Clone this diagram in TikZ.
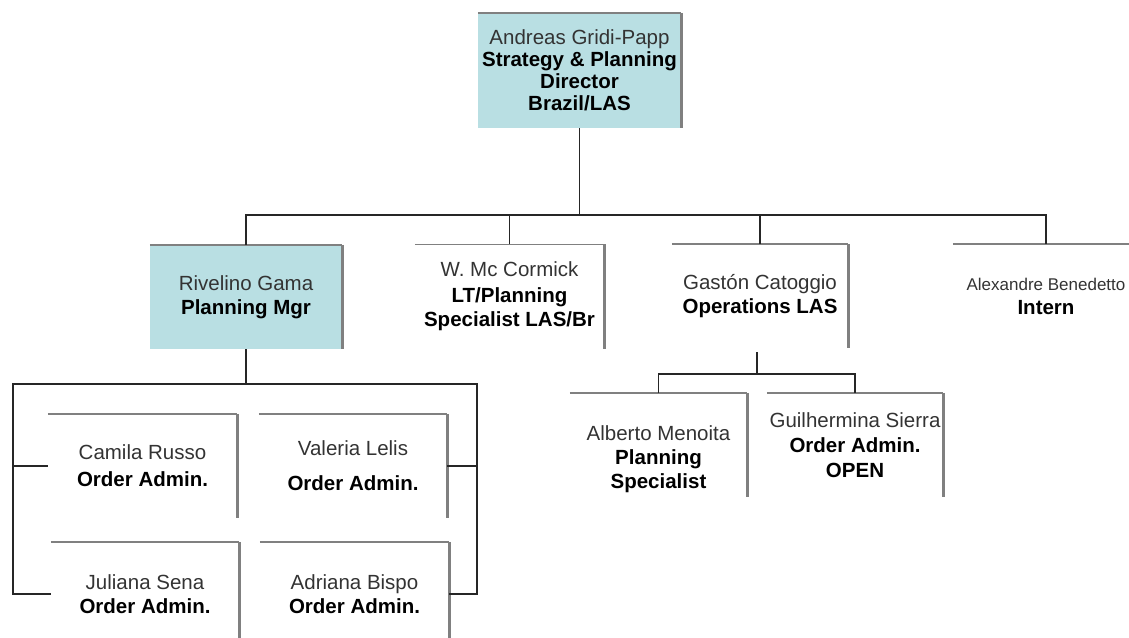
\documentclass[tikz,border=0pt]{standalone}
\usepackage{fontspec}
\setmainfont{Liberation Sans}
\usepackage{tikz}
\definecolor{boxblue}{RGB}{185,223,227}
\definecolor{rimgray}{RGB}{128,128,128}
\newcommand{\who}[1]{{\color{black!80}#1}}

\begin{document}
\begin{tikzpicture}[x=1pt,y=-1pt,font=\fontsize{20.5}{24}\selectfont]
    \tikzstyle{person}=[rectangle,inner sep=0pt,align=center,minimum width=189pt,minimum height=104pt]
    \tikzstyle{lead}=[person,fill=boxblue]
    \tikzstyle{topline}=[draw=rimgray,line width=1.5pt]
    \tikzstyle{sideline}=[draw=rimgray,line width=3pt]
    \tikzstyle{link}=[draw=black!85,line width=1.5pt]

    \useasboundingbox (0,0) rectangle (1129,637);
    \clip (0,0) rectangle (1129,637);

    % Director
    \node[lead,minimum width=203pt,minimum height=115pt,font=\fontsize{20.5}{22}\selectfont] (dir) at (579.5,70.5)
        {\who{Andreas Gridi-Papp}\\\textbf{Strategy \& Planning}\\\textbf{Director}\\\textbf{Brazil/LAS}};

    % Second level
    \node[lead,minimum width=192pt] (riv) at (246,297) {\who{Rivelino Gama}\\\textbf{Planning Mgr}};
    \node[person] (mcc) at (509.5,296.5) {\who{W. Mc Cormick}\\[2pt]\textbf{LT/Planning}\\\textbf{Specialist LAS/Br}};
    \node[person,minimum width=176pt] (gas) at (760,296) {\who{Gastón Catoggio}\\\textbf{Operations LAS}};
    \node[person,minimum width=186pt] (alex) at (1046,296) {{\fontsize{17}{20}\selectfont\who{Alexandre Benedetto}}\\\textbf{Intern}};

    % Operations team
    \node[person,minimum width=177pt] (alb) at (658.5,445) {\rule{0pt}{43pt}\who{Alberto Menoita}\\\textbf{Planning}\\\textbf{Specialist}};
    \node[person,minimum width=176pt] (gui) at (855,445) {\who{Guilhermina Sierra}\\[1pt]\textbf{Order Admin.}\\[1pt]\textbf{OPEN}};

    % Planning team
    \node[person] (cam) at (142.5,466) {\who{Camila Russo}\\[3pt]\textbf{Order Admin.}};
    \node[person,minimum width=188pt] (val) at (353,466) {\who{Valeria Lelis}\\[11pt]\textbf{Order Admin.}};
    \node[person,minimum width=188pt] (jul) at (145,594) {\who{Juliana Sena}\\\textbf{Order Admin.}};
    \node[person] (adr) at (354.5,594) {\who{Adriana Bispo}\\\textbf{Order Admin.}};

    % Box rims: thin top edge, thick right edge
    \foreach \n in {dir,riv,mcc,gas,alex,alb,gui,cam,val,jul,adr} {
        \draw[topline] (\n.north west) -- (\n.north east);
        \draw[sideline] (\n.north east) -- (\n.south east);
    }

    % Director to second level
    \coordinate (bus) at (579.5,215);
    \draw[link] (dir.south) -- (bus);
    \draw[link] (riv.north) |- (bus) -| (alex.north);
    \foreach \c in {mcc,gas}
        \draw[link] (\c.north) -- (\c.north |- bus);

    % Operations LAS to its team
    \draw[link] (gas.south) ++(-3,4) -- ++(0,22) coordinate (gbus);
    \draw[link] (alb.north) |- (gbus) -| (gui.north);

    % Planning Mgr to his team
    \draw[link] (riv.south) -- ++(0,35) coordinate (lbus);
    \coordinate (lw) at (13,384);
    \coordinate (le) at (477,384);
    \draw[link] (cam.west) -| (lw) -- (le) |- (val.east);
    \draw[link] (jul.west) -| (lw);
    \draw[link] (adr.east) -| (le);
\end{tikzpicture}
\end{document}
